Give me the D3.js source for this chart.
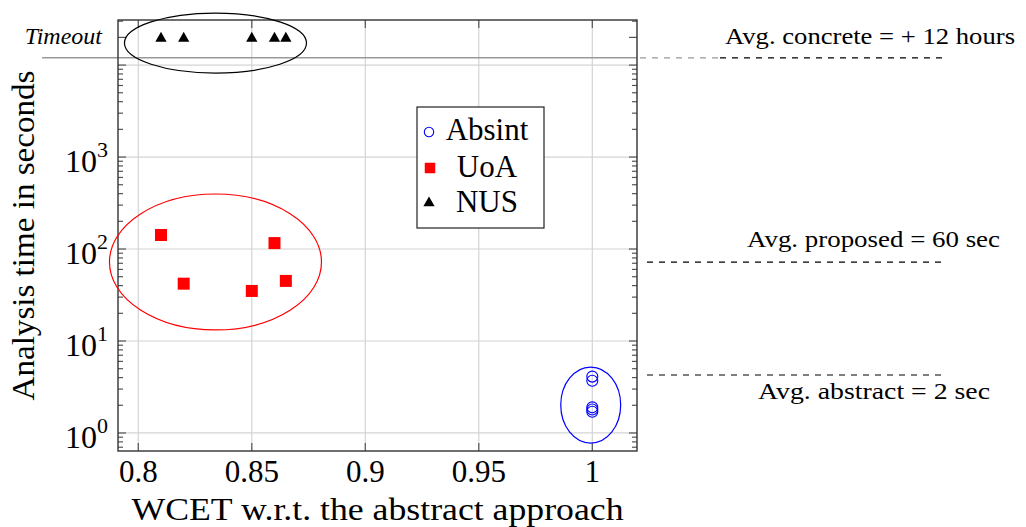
<!DOCTYPE html>
<html>
<head>
<meta charset="utf-8">
<style>
  body { margin: 0; background: #fff; }
  svg { display: block; }
  text { font-family: "Liberation Serif", "DejaVu Serif", serif; fill: #000; }
</style>
<script src="https://cdnjs.cloudflare.com/ajax/libs/d3/7.8.5/d3.min.js"></script>
</head>
<body>
<div id="chart"></div>
<script>
// ---- data ----
var xTicks = [0.8, 0.85, 0.9, 0.95, 1];
var xTickLabels = ["0.8", "0.85", "0.9", "0.95", "1"];
var yTickExps = [0, 1, 2, 3];
var timeoutValue = 20000;
var timeoutLine = 12000;

var wcet = [0.81, 0.82, 0.85, 0.86, 0.865];
var absintX = [1, 1, 1, 1, 1];
var absintY = [4.1, 3.7, 1.9, 1.8, 1.7];
var uoaY = [142, 42, 35, 116, 45];
var nusY = [timeoutValue, timeoutValue, timeoutValue, timeoutValue, timeoutValue];

var legendNames = ["Absint", "UoA", "NUS"];

var avgLabels = ["Avg. concrete = + 12 hours", "Avg. proposed = 60 sec", "Avg. abstract = 2 sec"];
var avgValues = [12000, 72, 4.27];

// groups circled on the plot: centre, half width (x units), half height (decades)
var ringCx = [0.834, 0.834, 0.9993];
var ringCy = [17340, 72.3, 2.01];
var ringRx = [0.0401, 0.0467, 0.0132];
var ringRy = [0.326, 0.739, 0.413];
var ringColor = ["#000", "#f00", "#00f"];

// ---- layout ----
var W = 1026, H = 527;
var pL = 118, pR = 637, pT = 20, pB = 451;

var svg = d3.select("#chart").append("svg").attr("width", W).attr("height", H);

var x = d3.scaleLinear().domain([0.79106, 1.01969]).range([pL, pR]);
var y = d3.scaleLog().domain([Math.pow(10, -0.196), Math.pow(10, 4.49)]).range([pB, pT]);

// grid
var grid = svg.append("g").attr("stroke", "#d4d4d4").attr("stroke-width", 1.2);
grid.selectAll("line.gx").data(xTicks).enter().append("line")
    .attr("x1", d => x(d)).attr("x2", d => x(d)).attr("y1", pT).attr("y2", pB);
grid.selectAll("line.gy").data([0, 1, 2, 3, 4]).enter().append("line")
    .attr("x1", pL).attr("x2", pR)
    .attr("y1", d => y(Math.pow(10, d))).attr("y2", d => y(Math.pow(10, d)));

// timeout line
svg.append("line").attr("x1", 42).attr("x2", pR).attr("y1", y(timeoutLine)).attr("y2", y(timeoutLine))
    .attr("stroke", "#999").attr("stroke-width", 1.5);

// ticks (inside, both sides)
var minor = [];
for (var e = -1; e <= 4; e++) {
  for (var k = 2; k <= 9; k++) {
    var v = k * Math.pow(10, e);
    if (y(v) >= pT && y(v) <= pB) minor.push(v);
  }
}
var major = [1, 10, 100, 1000, 10000, timeoutValue];
var ticks = svg.append("g").attr("stroke", "#555").attr("stroke-width", 1.2);
function yTicks(list, len) {
  ticks.selectAll(null).data(list).enter().append("line")
      .attr("x1", pL).attr("x2", pL + len).attr("y1", d => y(d)).attr("y2", d => y(d));
  ticks.selectAll(null).data(list).enter().append("line")
      .attr("x1", pR).attr("x2", pR - len).attr("y1", d => y(d)).attr("y2", d => y(d));
}
yTicks(minor.filter(v => v !== timeoutValue), 5);
yTicks(major, 8);
ticks.selectAll(null).data(xTicks).enter().append("line")
    .attr("x1", d => x(d)).attr("x2", d => x(d)).attr("y1", pB).attr("y2", pB - 8);
ticks.selectAll(null).data(xTicks).enter().append("line")
    .attr("x1", d => x(d)).attr("x2", d => x(d)).attr("y1", pT).attr("y2", pT + 8);

// frame
svg.append("rect").attr("x", pL).attr("y", pT).attr("width", pR - pL).attr("height", pB - pT)
    .attr("fill", "none").attr("stroke", "#333").attr("stroke-width", 1.4);

// x tick labels
svg.selectAll("text.xt").data(xTicks).enter().append("text")
    .attr("x", d => x(d)).attr("y", 482).attr("text-anchor", "middle")
    .attr("font-size", 31).text((d, i) => xTickLabels[i]);

// y tick labels 10^n
svg.selectAll("text.yt").data(yTickExps).enter().append("text")
    .attr("x", 97).attr("y", d => y(Math.pow(10, d)) + 15).attr("text-anchor", "end")
    .attr("font-size", 32).text("10");
svg.selectAll("text.ys").data(yTickExps).enter().append("text")
    .attr("x", 97).attr("y", d => y(Math.pow(10, d)))
    .attr("font-size", 22).text(d => d);

svg.append("text").attr("x", 102).attr("y", y(timeoutValue) + 7).attr("text-anchor", "end")
    .attr("font-size", 24).attr("font-style", "italic").text("Timeout");

// axis titles
svg.append("text").attr("x", (pL + pR) / 2).attr("y", 520).attr("text-anchor", "middle")
    .attr("font-size", 32).attr("textLength", 492).attr("lengthAdjust", "spacingAndGlyphs")
    .text("WCET w.r.t. the abstract approach");
svg.append("text").attr("transform", "translate(34," + ((pT + pB) / 2) + ") rotate(-90)")
    .attr("text-anchor", "middle").attr("font-size", 32)
    .attr("textLength", 330).attr("lengthAdjust", "spacingAndGlyphs")
    .text("Analysis time in seconds");

// circled groups
svg.selectAll("ellipse.ring").data(ringCx).enter().append("ellipse")
    .attr("cx", d => x(d))
    .attr("cy", (d, i) => y(ringCy[i]))
    .attr("rx", (d, i) => x(d + ringRx[i]) - x(d))
    .attr("ry", (d, i) => y(ringCy[i]) - y(ringCy[i] * Math.pow(10, ringRy[i])))
    .attr("fill", "none").attr("stroke", (d, i) => ringColor[i]).attr("stroke-width", 1.2);

// marks
var square = d3.symbol().type(d3.symbolSquare).size(144);
var tri = d3.symbol().type(d3.symbolTriangle).size(55);

svg.selectAll("path.uoa").data(wcet).enter().append("path")
    .attr("d", square).attr("fill", "#f00")
    .attr("transform", (d, i) => "translate(" + x(d) + "," + y(uoaY[i]) + ")");
svg.selectAll("path.nus").data(wcet).enter().append("path")
    .attr("d", tri).attr("fill", "#000")
    .attr("transform", (d, i) => "translate(" + x(d) + "," + (y(nusY[i]) + 1) + ")");
svg.selectAll("circle.absint").data(absintX).enter().append("circle")
    .attr("cx", d => x(d)).attr("cy", (d, i) => y(absintY[i])).attr("r", 5.5)
    .attr("fill", "none").attr("stroke", "#00f").attr("stroke-width", 1.1);

// legend
var lg = svg.append("g");
lg.append("rect").attr("x", 417).attr("y", 107).attr("width", 127).attr("height", 121)
    .attr("fill", "#fff").attr("stroke", "#222").attr("stroke-width", 1.2);
var rowY = [132, 168, 203];
lg.append("circle").attr("cx", 429).attr("cy", rowY[0]).attr("r", 4.7)
    .attr("fill", "none").attr("stroke", "#00f").attr("stroke-width", 1.1);
lg.append("path").attr("d", d3.symbol().type(d3.symbolSquare).size(110)())
    .attr("fill", "#f00").attr("transform", "translate(430," + rowY[1] + ")");
lg.append("path").attr("d", tri()).attr("fill", "#000").attr("transform", "translate(429," + rowY[2] + ")");
lg.selectAll("text").data(legendNames).enter().append("text")
    .attr("x", 487).attr("y", (d, i) => rowY[i] + 8 + (i === 0 ? 0 : 1)).attr("text-anchor", "middle")
    .attr("font-size", 31).text(d => d);

// average lines with notes
var dash = svg.append("g").attr("stroke-width", 1.2).attr("stroke-dasharray", "6,6");
dash.selectAll("line").data(avgValues).enter().append("line")
    .attr("x1", (d, i) => i === 0 ? 720 : 647).attr("x2", 942)
    .attr("y1", d => y(d)).attr("y2", d => y(d)).attr("stroke", "#000");
dash.append("line").attr("x1", 640).attr("x2", 720).attr("y1", y(avgValues[0])).attr("y2", y(avgValues[0]))
    .attr("stroke", "#999");

var noteX = [725, 747, 758];
var noteLen = [290, 253, 232];
var noteDy = [-14, -15, 24];
svg.selectAll("text.note").data(avgLabels).enter().append("text")
    .attr("x", (d, i) => noteX[i]).attr("y", (d, i) => y(avgValues[i]) + noteDy[i])
    .attr("font-size", 23).attr("textLength", (d, i) => noteLen[i]).attr("lengthAdjust", "spacingAndGlyphs")
    .text(d => d);
</script>
</body>
</html>
